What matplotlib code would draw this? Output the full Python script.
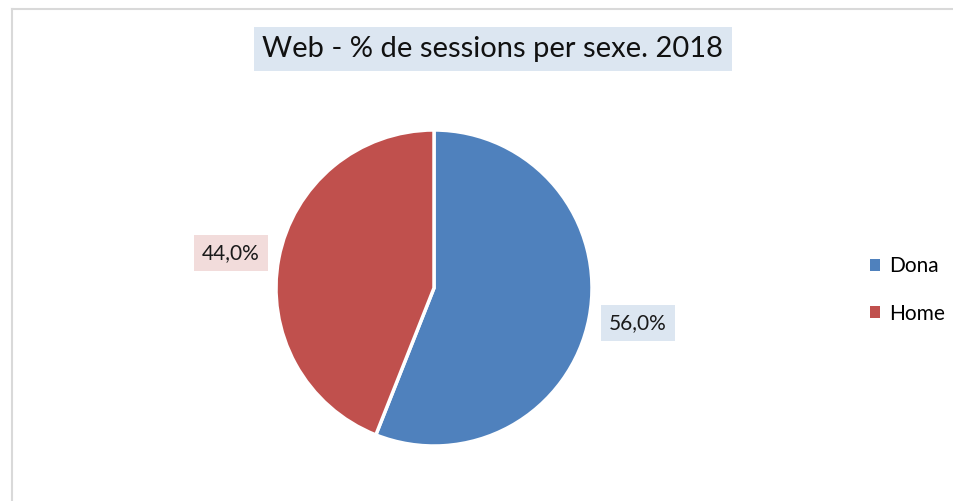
import matplotlib
matplotlib.use("Agg")
import matplotlib.pyplot as plt
from matplotlib.lines import Line2D
from matplotlib.patches import Patch

categories = ["Dona", "Home"]
values = [56.0, 44.0]
colors = ["#4f81bd", "#c0504d"]
label_bg = ["#dce6f1", "#f2dcdb"]
title = "Web - % de sessions per sexe. 2018"

W, H = 954, 501
fig = plt.figure(figsize=(W / 100, H / 100), dpi=100)
plt.rcParams['font.family'] = ['Lato', 'DejaVu Sans']

# border lines
fig.add_artist(Line2D([12.5 / W, 12.5 / W], [0, 1 - 9 / H], color="#d9d9d9", lw=1.5))
fig.add_artist(Line2D([12.5 / W, 1], [1 - 9 / H, 1 - 9 / H], color="#d9d9d9", lw=1.5))

cx, cy, R = 434, 288, 158
ax = fig.add_axes([(cx - R) / W, (H - cy - R) / H, 2 * R / W, 2 * R / H])
ax.set_xlim(-1, 1)
ax.set_ylim(-1, 1)
ax.axis("off")
wedges, _ = ax.pie(values, colors=colors, startangle=90, counterclock=False, radius=1,
                   wedgeprops=dict(edgecolor="white", linewidth=2.5))
ax.set_xlim(-1, 1)
ax.set_ylim(-1, 1)

label_pos = [(1.29, -0.222), (-1.285, 0.222)]
for v, (x, y), bg in zip(values, label_pos, label_bg):
    ax.text(x, y, f"{v:.1f}%".replace(".", ","), ha="center", va="center", fontsize=15,
            color="#1a1a1a", clip_on=False,
            bbox=dict(boxstyle="square,pad=0.4", fc=bg, ec="none"))

fig.text(493 / W, 1 - 49 / H, title, ha="center", va="center", fontsize=21, color="#111111",
         bbox=dict(boxstyle="square,pad=0.3", fc="#dce6f1", ec="none"))

handles = [Patch(facecolor=c, edgecolor="none") for c in colors]
fig.legend(handles, categories, loc="center left", bbox_to_anchor=(851 / W, 1 - 290 / H),
           frameon=False, fontsize=15, handlelength=0.5, handleheight=0.5,
           handletextpad=0.45, labelspacing=1.3)

fig.savefig("out.png", dpi=100, facecolor="white")
